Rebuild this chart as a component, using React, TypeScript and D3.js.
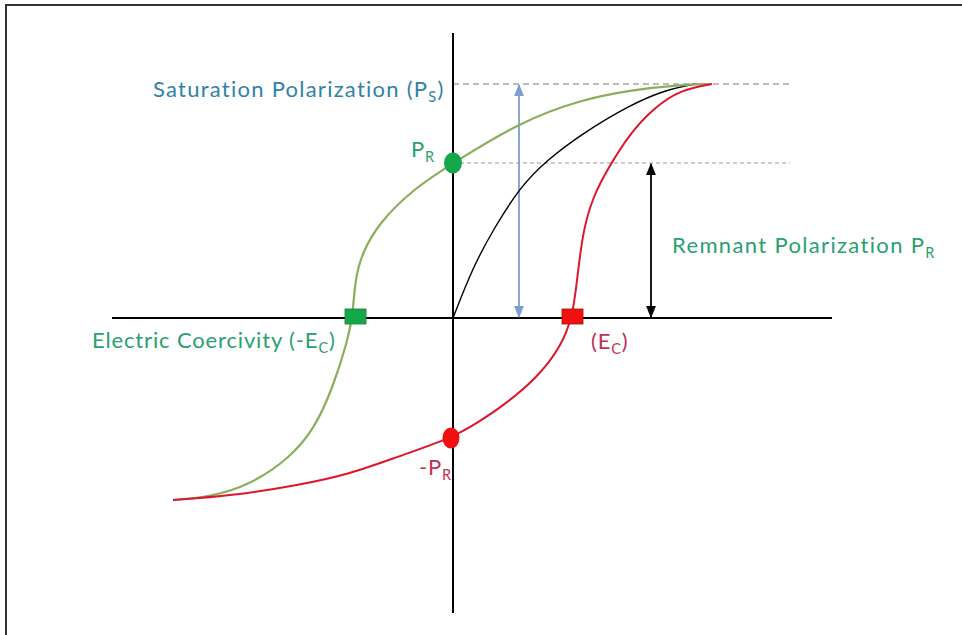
import React from "react";
import * as d3 from "d3";

// Curves in field/polarization units (1 unit = 100px)
const greenBranch: [number, number][] = [
  [-2.8, -1.82], [-2.43, -1.79], [-2.03, -1.67], [-1.63, -1.40], [-1.38, -1.10], [-1.2, -0.69],
  [-1.05, -0.22], [-1.0, 0.05], [-0.98, 0.38], [-0.91, 0.65], [-0.74, 0.95], [-0.41, 1.28],
  [0.0, 1.55], [0.67, 1.96], [1.27, 2.18], [1.77, 2.28], [2.27, 2.33], [2.57, 2.34],
];
const redBranch: [number, number][] = [
  [-2.8, -1.82], [-2.23, -1.78], [-1.53, -1.67], [-1.03, -1.56], [-0.56, -1.39], [-0.01, -1.2],
  [0.24, -1.05], [0.5, -0.88], [0.84, -0.6], [1.08, -0.29], [1.2, 0.03], [1.24, 0.38],
  [1.3, 0.88], [1.4, 1.21], [1.54, 1.48], [1.77, 1.85], [2.02, 2.11], [2.27, 2.28], [2.59, 2.34],
];
const initialCurve: [number, number][] = [
  [0, 0], [0.2, 0.51], [0.4, 0.88], [0.67, 1.31], [0.94, 1.58], [1.3, 1.85], [1.77, 2.13],
  [2.12, 2.28], [2.42, 2.34],
];
const Ps = 2.34;
const Pr = 1.55;
const negPr = -1.2;
const Ec = 1.19;
const negEc = -0.98;
const psArrowX = 0.66;
const prArrowX = 1.98;

const W = 962, H = 635;
const x = d3.scaleLinear().domain([-3.41, 3.79]).range([112, 832]);
const y = d3.scaleLinear().domain([0, 1]).range([318, 218]);

const line = d3.line<[number, number]>().x(d => x(d[0])).y(d => y(d[1])).curve(d3.curveBasis);

const FONT = "Lato, 'Open Sans', sans-serif";
const GREEN_TXT = "#2aa070";
const BLUE_TXT = "#2f82a6";
const RED_TXT = "#c42f55";

function Sub({ main, sub, size }: { main: string; sub: string; size: number }) {
  return (
    <>
      <tspan>{main}</tspan>
      <tspan fontSize={size * 0.66} dy={size * 0.24}>{sub}</tspan>
    </>
  );
}

export default function App() {
  const fs = 22;
  return (
    <svg width={W} height={H} style={{ position: "absolute", left: 0, top: 0, background: "#fff" }}>
      <defs>
        <marker id="bh" viewBox="0 0 10 10" refX="9" refY="5" markerWidth="7" markerHeight="7" orient="auto-start-reverse">
          <path d="M0,1 L10,5 L0,9 z" fill="#7b9fd0" />
        </marker>
        <marker id="kh" viewBox="0 0 10 10" refX="9" refY="5" markerWidth="7" markerHeight="7" orient="auto-start-reverse">
          <path d="M0,1 L10,5 L0,9 z" fill="#000" />
        </marker>
      </defs>
      <rect x={6} y={5} width={980} height={660} fill="none" stroke="#333" strokeWidth={2} />
      {/* dashed reference lines */}
      <line x1={x(0)} x2={790} y1={y(Ps)} y2={y(Ps)} stroke="#777" strokeDasharray="6,4" strokeWidth={1} />
      <line x1={x(0)} x2={790} y1={y(Pr)} y2={y(Pr)} stroke="#999" strokeDasharray="4,3" strokeWidth={1} />
      {/* axes */}
      <line x1={112} x2={832} y1={y(0)} y2={y(0)} stroke="#000" strokeWidth={2} />
      <line x1={x(0)} x2={x(0)} y1={33} y2={613} stroke="#000" strokeWidth={2} />
      {/* arrows */}
      <line x1={x(psArrowX)} x2={x(psArrowX)} y1={y(Ps) + 1} y2={y(0) - 1} stroke="#7b9fd0" strokeWidth={1.8}
        markerStart="url(#bh)" markerEnd="url(#bh)" />
      <line x1={x(prArrowX)} x2={x(prArrowX)} y1={y(Pr) + 1} y2={y(0) - 1} stroke="#000" strokeWidth={1.8}
        markerStart="url(#kh)" markerEnd="url(#kh)" />
      {/* curves */}
      <path d={line(initialCurve) ?? ""} fill="none" stroke="#000" strokeWidth={1.4} />
      <path d={line(greenBranch) ?? ""} fill="none" stroke="#8aae5c" strokeWidth={2.2} />
      <path d={line(redBranch) ?? ""} fill="none" stroke="#e0142c" strokeWidth={2} />
      {/* markers */}
      <rect x={x(negEc) - 10} y={y(0) - 9} width={21} height={15} fill="#14a84a" stroke="#1a7a3a" strokeWidth={0.8} />
      <rect x={x(Ec) - 10} y={y(0) - 9} width={21} height={15} fill="#f01010" stroke="#a01010" strokeWidth={0.8} />
      <ellipse cx={x(0)} cy={y(Pr)} rx={9} ry={10.5} fill="#14a84a" />
      <ellipse cx={x(-0.02)} cy={y(negPr)} rx={8.5} ry={10.5} fill="#f01010" />
      {/* labels */}
      <text x={153} y={97} fontFamily={FONT} fontSize={fs} letterSpacing={1.25} fill={BLUE_TXT}>
        <Sub main="Saturation Polarization (P" sub="S" size={fs} /><tspan dy={-fs * 0.24}>)</tspan>
      </text>
      <text x={411} y={157} fontFamily={FONT} fontSize={fs} letterSpacing={0.8} fill={GREEN_TXT}>
        <Sub main="P" sub="R" size={fs} />
      </text>
      <text x={672} y={253} fontFamily={FONT} fontSize={fs} letterSpacing={1.35} fill={GREEN_TXT}>
        <Sub main="Remnant Polarization P" sub="R" size={fs} />
      </text>
      <text x={92} y={348} fontFamily={FONT} fontSize={fs} letterSpacing={0.85} fill={GREEN_TXT}>
        <Sub main="Electric Coercivity (-E" sub="C" size={fs} /><tspan dy={-fs * 0.24}>)</tspan>
      </text>
      <text x={591} y={349} fontFamily={FONT} fontSize={fs} letterSpacing={0.8} fill={RED_TXT}>
        <Sub main="(E" sub="C" size={fs} /><tspan dy={-fs * 0.24}>)</tspan>
      </text>
      <text x={419} y={475} fontFamily={FONT} fontSize={fs} letterSpacing={0.8} fill={RED_TXT}>
        <Sub main="-P" sub="R" size={fs} />
      </text>
    </svg>
  );
}
